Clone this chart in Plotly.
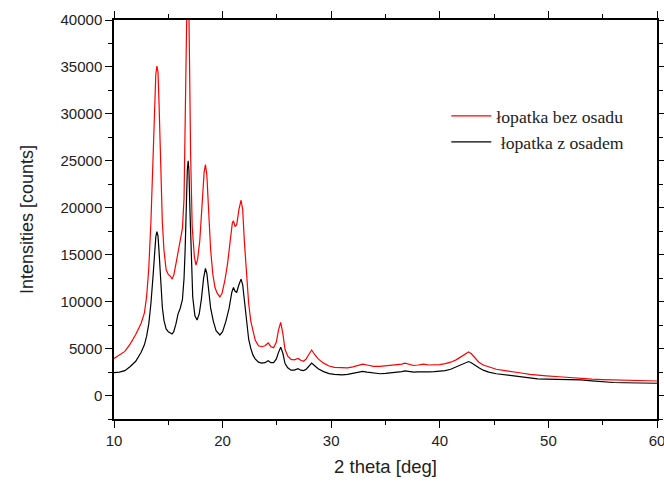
import plotly.graph_objects as go

# Red curve: łopatka bez osadu
x_red = [10.0, 10.5, 11.0, 11.5, 12.0, 12.5, 12.8, 13.0, 13.2, 13.4, 13.6, 13.75, 13.85, 13.95, 14.05, 14.15,
         14.3, 14.45, 14.6, 14.8, 15.0, 15.2, 15.35, 15.5, 15.7, 15.9, 16.1, 16.3, 16.45, 16.55, 16.65, 16.72,
         16.78, 16.85, 16.95, 17.05, 17.2, 17.4, 17.55, 17.7, 17.9, 18.1, 18.3, 18.42, 18.55, 18.7, 18.9, 19.1,
         19.3, 19.5, 19.75, 19.95, 20.2, 20.45, 20.7, 20.9, 21.0, 21.15, 21.3, 21.5, 21.7, 21.85, 22.0, 22.2,
         22.4, 22.6, 22.8, 23.0, 23.3, 23.6, 23.9, 24.2, 24.45, 24.7, 24.95, 25.15, 25.35, 25.55, 25.75, 26.0,
         26.3, 26.6, 26.95, 27.2, 27.45, 27.7, 27.95, 28.2, 28.45, 28.8, 29.3, 29.8, 30.3, 31.0, 31.5, 32.0,
         32.5, 32.9, 33.3, 33.9, 34.5, 35.0, 35.5, 36.0, 36.5, 36.8, 37.2, 37.6, 38.0, 38.5, 39.0, 39.5, 40.0,
         40.5, 41.0, 41.5, 42.0, 42.4, 42.65, 42.9, 43.2, 43.6, 44.0, 44.5, 45.2, 46.0, 46.8, 47.5, 48.3, 49.0,
         49.8, 51.0, 52.0, 53.0, 54.0, 55.0, 56.0, 57.0, 58.0, 59.0, 60.0]
y_red = [3950, 4300, 4700, 5500, 6500, 7700, 8800, 10500, 13500, 18500, 25000, 31000, 34200, 35100, 34500, 31000,
         24000, 18500, 15500, 13400, 12900, 12700, 12400, 12800, 14000, 15300, 16200, 17800, 21000, 27000, 37000, 44000,
         47000, 45000, 36000, 26000, 18000, 14800, 13900, 14500, 16500, 20000, 23800, 24600, 23500, 20000, 15500, 12900,
         11500, 10900, 10500, 10900, 12200, 14000, 16200, 18400, 18600, 18000, 18200, 19800, 20800, 19800, 16500, 12600,
         9800, 7900, 6700, 5900, 5300, 5200, 5300, 5600, 5200, 5100, 5700, 7000, 7800, 6600, 4900, 4200,
         3850, 3800, 3950, 3750, 3650, 3900, 4400, 4850, 4400, 3900, 3450, 3150, 3000, 2950, 2950, 3050,
         3200, 3350, 3250, 3100, 3100, 3150, 3200, 3300, 3350, 3450, 3300, 3200, 3250, 3350, 3250, 3250, 3300,
         3400, 3550, 3800, 4150, 4500, 4650, 4450, 4050, 3550, 3250, 3050, 2800, 2650, 2550, 2400, 2250, 2150,
         2100, 2000, 1900, 1850, 1750, 1700, 1670, 1630, 1600, 1570, 1550]

# Black curve: łopatka z osadem
x_black = [10.0, 10.5, 11.0, 11.5, 12.0, 12.5, 12.8, 13.0, 13.2, 13.4, 13.6, 13.75, 13.85, 13.95, 14.05, 14.15,
           14.3, 14.45, 14.6, 14.8, 15.0, 15.2, 15.35, 15.5, 15.7, 15.9, 16.1, 16.3, 16.45, 16.55, 16.65, 16.75,
           16.83, 16.9, 17.0, 17.1, 17.25, 17.45, 17.65, 17.85, 18.05, 18.25, 18.42, 18.55, 18.7, 18.9, 19.15,
           19.4, 19.75, 20.0, 20.3, 20.6, 20.85, 21.0, 21.15, 21.3, 21.5, 21.7, 21.85, 22.0, 22.2, 22.4, 22.6,
           22.8, 23.0, 23.3, 23.6, 23.9, 24.2, 24.45, 24.7, 24.95, 25.15, 25.35, 25.55, 25.75, 26.0, 26.3, 26.6,
           26.95, 27.2, 27.45, 27.7, 27.95, 28.2, 28.45, 28.8, 29.3, 29.8, 30.3, 31.0, 31.5, 32.0, 32.5, 32.9,
           33.3, 33.9, 34.5, 35.0, 35.5, 36.0, 36.5, 36.8, 37.2, 37.6, 38.0, 38.5, 39.0, 39.5, 40.0, 40.5, 41.0,
           41.5, 42.0, 42.4, 42.65, 42.9, 43.2, 43.6, 44.0, 44.5, 45.2, 46.0, 46.8, 47.5, 48.3, 49.0, 49.8, 51.0,
           52.0, 53.0, 54.0, 55.0, 56.0, 57.0, 58.0, 59.0, 60.0]
y_black = [2450, 2500, 2650, 3100, 3650, 4600, 5400, 6300, 7600, 9800, 12800, 15600, 16900, 17450, 17000, 15300,
           11800, 9400, 8000, 7100, 6800, 6600, 6550, 6800, 7600, 8700, 9300, 10200, 12500, 15500, 20500, 24000,
           25000, 24000, 19500, 14500, 10500, 8500, 8050, 8700, 10300, 12500, 13550, 13000, 11500, 9300, 7900,
           6900, 6450, 6800, 7900, 9300, 11000, 11500, 11100, 11000, 11800, 12400, 11800, 10000, 7700, 6000, 5000,
           4300, 3900, 3550, 3450, 3500, 3700, 3500, 3500, 3900, 4600, 5150, 4500, 3400, 2950, 2700, 2700,
           2850, 2700, 2650, 2800, 3150, 3450, 3200, 2850, 2550, 2330, 2250, 2200, 2250, 2350, 2500, 2580,
           2500, 2380, 2320, 2350, 2400, 2500, 2550, 2620, 2550, 2500, 2520, 2560, 2530, 2540, 2570, 2650, 2800,
           3050, 3350, 3550, 3620, 3500, 3250, 2950, 2700, 2500, 2320, 2200, 2100, 1950, 1820, 1770, 1740, 1720,
           1690, 1660, 1560, 1450, 1390, 1360, 1340, 1320, 1310]

series_names = ["łopatka bez osadu", "\u00a0łopatka z osadem"]
x_ticks = [10, 20, 30, 40, 50, 60]
y_ticks = [0, 5000, 10000, 15000, 20000, 25000, 30000, 35000, 40000]

fig = go.Figure()
fig.add_trace(go.Scatter(x=x_red, y=y_red, mode="lines", name=series_names[0],
                         line=dict(color="#ff0000", width=1.2)))
fig.add_trace(go.Scatter(x=x_black, y=y_black, mode="lines", name=series_names[1],
                         line=dict(color="#000000", width=1.2)))

axis_font = dict(family="Liberation Sans, Arial, sans-serif", size=15, color="#222")
fig.update_layout(
    width=664, height=481,
    margin=dict(l=114, r=7, t=20, b=62, autoexpand=False),
    paper_bgcolor="white", plot_bgcolor="white",
    font=axis_font,
    showlegend=True,
    legend=dict(x=0.612, y=0.805, xanchor="left", yanchor="top",
                bgcolor="rgba(0,0,0,0)", itemwidth=40,
                font=dict(family="Liberation Serif, Times New Roman, serif", size=17.7, color="#222")),
    xaxis=dict(range=[10, 60], tickvals=x_ticks, ticktext=[str(v) for v in x_ticks],
               showline=True, linecolor="black", linewidth=1.5, mirror="ticks",
               ticks="outside", ticklen=7, tickwidth=1.3, tickcolor="black",
               minor=dict(dtick=5, ticks="outside", ticklen=4, tickwidth=1.1, tickcolor="black"),
               showgrid=False, zeroline=False, automargin=False, ticklabeloverflow="allow",
               title=dict(text="2 theta [deg]", font=dict(size=18.5), standoff=12)),
    yaxis=dict(range=[-2500, 40000], tickvals=y_ticks, ticktext=[str(v) for v in y_ticks],
               showline=True, linecolor="black", linewidth=1.5, mirror="ticks",
               ticks="outside", ticklen=7, tickwidth=1.3, tickcolor="black",
               minor=dict(dtick=2500, tick0=0, ticks="outside", ticklen=4, tickwidth=1.1, tickcolor="black"),
               showgrid=False, zeroline=False, automargin=False, ticklabeloverflow="allow",
               title=dict(text="Intensities [counts]", font=dict(size=18), standoff=22)),
)

fig.write_html("out.html")
